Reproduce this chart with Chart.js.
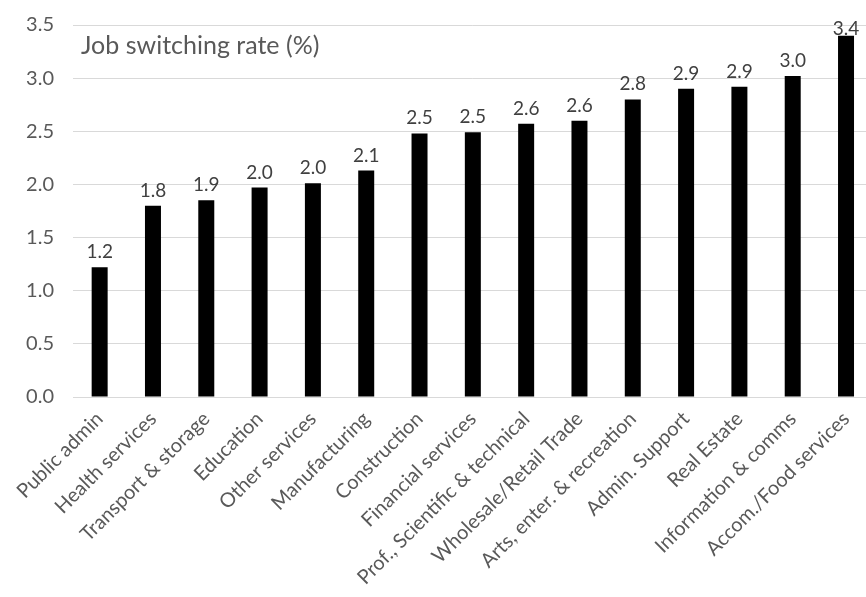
<!DOCTYPE html>
<html>
<head>
<meta charset="utf-8">
<script src="https://cdn.jsdelivr.net/npm/chart.js@4"></script>
<style>
  html, body { margin: 0; padding: 0; background: #fff; overflow: hidden; }
  #wrap { width: 873px; height: 597px; }
</style>
</head>
<body>
<div id="wrap"><canvas id="job_switching"></canvas></div>
<script>
/* Job switching rate by sector */

var sectors = ['Public admin', 'Health services', 'Transport & storage', 'Education',
    'Other services', 'Manufacturing', 'Construction', 'Financial services',
    'Prof., Scientific & technical', 'Wholesale/Retail Trade', 'Arts, enter. & recreation',
    'Admin. Support', 'Real Estate', 'Information & comms', 'Accom./Food services'];
var rates = [1.22, 1.80, 1.85, 1.97, 2.01, 2.13, 2.48, 2.49, 2.57, 2.60, 2.80, 2.90, 2.92, 3.02, 3.40];
var yTicks = [0, 0.5, 1, 1.5, 2, 2.5, 3, 3.5];
var chartTitle = 'Job switching rate (%)';

var grey = '#595959';
var fontName = 'Lato';

// draws the title inside the plot and the value labels above the bars
var labelsPlugin = {
    id: 'labelsPlugin',
    afterDatasetsDraw: function(chart) {
        var ctx = chart.ctx;
        var area = chart.chartArea;
        ctx.save();
        ctx.fillStyle = grey;
        ctx.font = '25px ' + fontName;
        ctx.textAlign = 'left';
        ctx.textBaseline = 'alphabetic';
        ctx.fillText(chartTitle, area.left + 8, area.top + 29);

        ctx.font = '19px ' + fontName;
        ctx.fillStyle = '#404040';
        ctx.textAlign = 'center';
        var meta = chart.getDatasetMeta(0);
        meta.data.forEach(function(bar, i) {
            // keep the label inside the plot, like the original does for the tallest bar
            var y = Math.max(bar.y - 9, area.top + 10);
            ctx.fillText(rates[i].toFixed(1), bar.x, y);
        });
        ctx.restore();
    }
};

var ctx = document.getElementById('job_switching').getContext('2d');
var chart = new Chart(ctx, {
    type: 'bar',
    data: {
        labels: sectors,
        datasets: [{
            data: rates,
            backgroundColor: '#000000',
            borderWidth: 0,
            barPercentage: 1,
            categoryPercentage: 0.3
        }]
    },
    plugins: [labelsPlugin],
    options: {
        responsive: true,
        maintainAspectRatio: false,
        animation: false,
        layout: { padding: { top: 25, right: 0, left: 0, bottom: 0 } },
        plugins: {
            legend: { display: false },
            tooltip: { enabled: false }
        },
        scales: {
            x: {
                grid: { display: false, drawTicks: false },
                border: { display: true, color: '#d9d9d9', width: 1 },
                ticks: {
                    color: grey,
                    font: { family: fontName, size: 20 },
                    minRotation: 45,
                    maxRotation: 45,
                    autoSkip: false,
                    padding: 10
                },
                afterFit: function(scale) { scale.height = 200; }
            },
            y: {
                min: 0,
                max: 3.5,
                afterBuildTicks: function(scale) {
                    scale.ticks = yTicks.map(function(v) { return { value: v }; });
                },
                grid: { color: '#d9d9d9', lineWidth: 1, drawTicks: false },
                border: { display: false },
                ticks: {
                    color: grey,
                    font: { family: fontName, size: 20 },
                    padding: 19,
                    callback: function(v) { return Number(v).toFixed(1); }
                },
                afterFit: function(scale) {
                    scale.width = 73;
                    scale.paddingTop = 0;
                    scale.paddingBottom = 0;
                }
            }
        }
    }
});
</script>
</body>
</html>
